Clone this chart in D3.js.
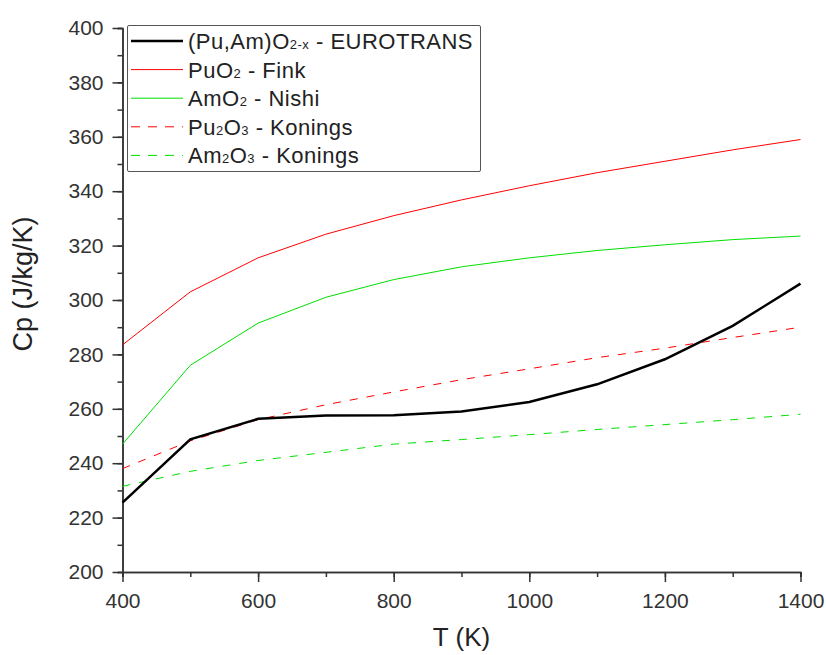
<!DOCTYPE html>
<html><head><meta charset="utf-8">
<script src="https://cdn.jsdelivr.net/npm/d3@7"></script>
<style>body{margin:0;background:#fff}svg text{font-family:"Liberation Sans",Arial,sans-serif;fill:#222}</style>
</head><body><svg id="c" width="826" height="655"></svg>
<script>
const temps = [400,500,600,700,800,900,1000,1100,1200,1300,1400];
const eurotrans = [225.5,248.8,256.3,257.5,257.6,259,262.5,269,278.2,290.5,306];
const puo2Fink = [283.5,303,315.5,324.2,331,336.8,342,346.8,351,355.2,359];
const amo2Nishi = [247,276,291.5,301,307.5,312.2,315.5,318.2,320.3,322.2,323.5];
const pu2o3Konings = [238,248.2,256,261.5,266.2,270.7,274.7,278.8,282.3,286.2,290];
const am2o3Konings = [231.5,237,241,244,247,248.7,250.5,252.4,254.2,256,258];
const xTicks = [400,600,800,1000,1200,1400];
const yTicks = [200,220,240,260,280,300,320,340,360,380,400];

const series = [
  {name:[["(Pu,Am)O",0],["2-x",1],[" - EUROTRANS",0]], vals:eurotrans, color:"#000", w:2.5, dash:null},
  {name:[["PuO",0],["2",1],[" - Fink",0]], vals:puo2Fink, color:"#ff0000", w:1, dash:null},
  {name:[["AmO",0],["2",1],[" - Nishi",0]], vals:amo2Nishi, color:"#00e000", w:1, dash:null},
  {name:[["Pu",0],["2",1],["O",0],["3",1],[" - Konings",0]], vals:pu2o3Konings, color:"#ff0000", w:1, dash:"8,9"},
  {name:[["Am",0],["2",1],["O",0],["3",1],[" - Konings",0]], vals:am2o3Konings, color:"#00e000", w:1, dash:"8,9"}
];

const svg = d3.select("#c");
const x = d3.scaleLinear().domain([400,1400]).range([122.5,800.5]);
const y = d3.scaleLinear().domain([200,400]).range([572,28]);

// axes
const axisColor = "#333";
const xa = svg.append("g").attr("transform","translate(0,572)");
xa.call(d3.axisBottom(x).tickValues(d3.range(400,1401,100)).tickSize(5).tickFormat(""));
xa.append("g").call(d3.axisBottom(x).tickValues(xTicks).tickSize(10).tickSizeOuter(0).tickFormat(d3.format("d")));
const ya = svg.append("g").attr("transform","translate(122.5,0)");
ya.call(d3.axisLeft(y).tickValues(d3.range(200,401,10)).tickSize(5).tickFormat(""));
ya.append("g").call(d3.axisLeft(y).tickValues(yTicks).tickSize(10).tickSizeOuter(0).tickFormat(d3.format("d")));
svg.selectAll(".domain").attr("stroke",axisColor).attr("stroke-width",1.5);
svg.selectAll(".tick line").attr("stroke",axisColor).attr("stroke-width",1.5);
svg.selectAll(".tick text").attr("font-size",21).style("fill","#333");
xa.selectAll(".tick text").attr("y",36).attr("dy",0);
ya.selectAll(".tick text").attr("x",-19);

// lines
const line = d3.line().x((d,i)=>x(temps[i])).y(d=>y(d));
series.slice().reverse().forEach(s=>{
  svg.append("path").datum(s.vals).attr("d",line).attr("fill","none")
    .attr("stroke",s.color).attr("stroke-width",s.w)
    .attr("stroke-dasharray",s.dash);
});

// legend
const lg = svg.append("g");
lg.append("rect").attr("x",127.5).attr("y",25.5).attr("width",353).attr("height",146)
  .attr("fill","#fff").attr("stroke","#555").attr("stroke-width",1).attr("rx",1.5);
series.forEach((s,i)=>{
  const yy = 41 + i*28.6;
  lg.append("line").attr("x1",131).attr("x2",183).attr("y1",yy).attr("y2",yy)
    .attr("stroke",s.color).attr("stroke-width",s.w).attr("stroke-dasharray",s.dash?"9,8":null);
  const t = lg.append("text").attr("x",188).attr("y",yy+8).attr("font-size",22).attr("letter-spacing",0.5);
  s.name.forEach(([txt,sub])=>{
    t.append("tspan").text(txt).attr("font-size",sub?13:22).style("fill","#222");
  });
});

// axis titles
svg.append("text").attr("x",461.5).attr("y",646).attr("text-anchor","middle").attr("font-size",26).text("T (K)");
svg.append("text").attr("transform","translate(32,284) rotate(-90)").attr("text-anchor","middle").attr("font-size",27).text("Cp (J/kg/K)");
</script></body></html>
